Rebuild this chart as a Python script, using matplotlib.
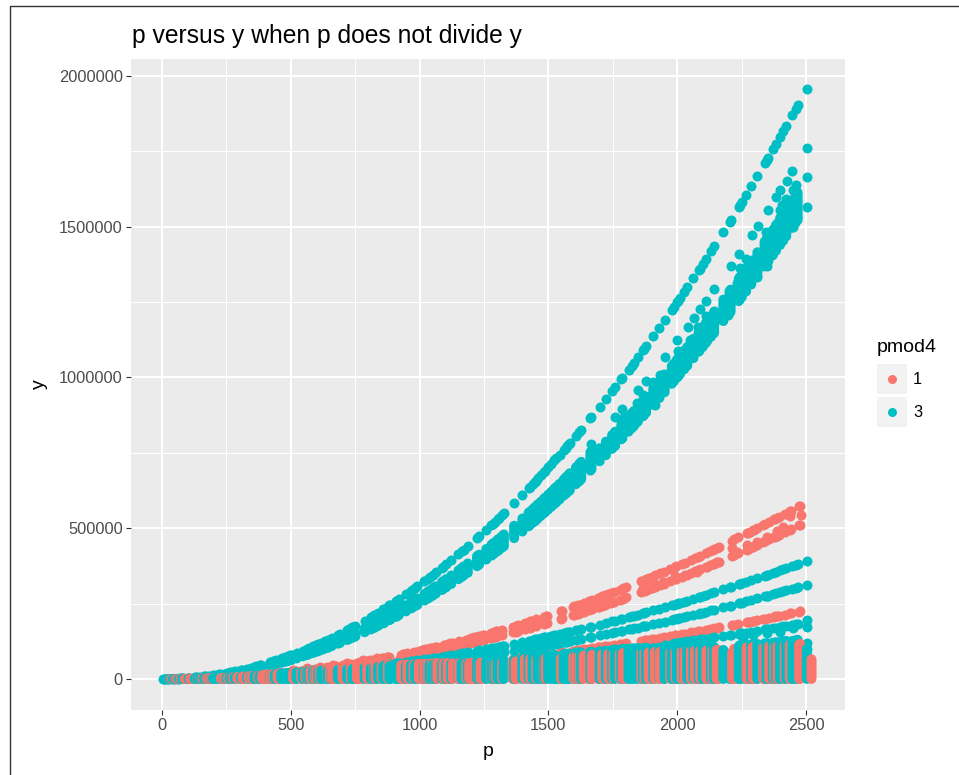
import matplotlib
matplotlib.use('Agg')
import matplotlib.pyplot as plt
from matplotlib.lines import Line2D
from matplotlib.patches import Rectangle

plt.rcParams['font.family'] = ['Liberation Sans', 'DejaVu Sans']

RED = '#F8766D'
TEAL = '#00BFC4'

W, H = 959, 775

# all y values below are in thousands

# teal, the top curve, one point for each prime
curve_p = [3, 7, 11, 19, 23, 31, 43, 47, 59, 67, 71, 79, 83, 103, 107, 127, 131, 139, 151, 163, 167, 179, 191, 199, 211, 223, 227, 239, 251, 263, 271, 283,
           307, 311, 331, 347, 359, 367, 379, 383, 419, 431, 439, 443, 463, 467, 479, 487, 491, 499, 503, 523, 547, 563, 571, 587, 599, 607, 619, 631, 643, 647, 659, 683, 691,
           719, 727, 739, 743, 751, 787, 811, 823, 827, 839, 859, 863, 883, 887, 907, 911, 919, 947, 967, 971, 983, 991, 1019, 1031, 1039, 1051, 1063, 1087, 1091,
           1103, 1123, 1151, 1163, 1171, 1187, 1223, 1231, 1259, 1279, 1283, 1291, 1303, 1307, 1319, 1327, 1367, 1399, 1423, 1427, 1439, 1447, 1451, 1459, 1471, 1483, 1487, 1499,
           1511, 1523, 1531, 1543, 1559, 1567, 1571, 1579, 1583, 1607, 1619, 1627, 1663, 1667, 1699, 1723, 1747, 1759, 1783, 1787, 1811, 1823, 1831, 1847, 1867, 1871, 1879,
           1907, 1931, 1951, 1979, 1987, 1999, 2003, 2011, 2027, 2039, 2063, 2083, 2087, 2099, 2111, 2131, 2143, 2179, 2203, 2207, 2239, 2243, 2251, 2267, 2287,
           2311, 2339, 2347, 2351, 2371, 2383, 2399, 2411, 2423, 2447, 2459, 2467, 2503]
curve_y = [0, 0, 0, 0.1, 0.2, 0.3, 0.6, 0.7, 1.1, 1.4, 1.6, 2, 2.2, 3.3, 3.6, 5, 5.4, 6, 7.1, 8.3, 8.7, 10, 11.4, 12.4, 13.9, 15.5, 16.1, 17.9, 19.7, 21.6, 23, 25,
           29.5, 30.2, 34.2, 37.6, 40.3, 42.1, 44.9, 45.8, 54.9, 58.1, 60.2, 61.3, 67, 68.2, 71.7, 74.1, 75.3, 77.8, 79.1, 85.5, 93.5, 99.1, 101.9, 107.7, 112.1, 115.1, 119.7, 124.4, 129.2, 130.8, 135.7, 145.8, 149.2,
           161.6, 165.2, 170.7, 172.5, 176.3, 193.6, 205.5, 211.7, 213.7, 220, 230.6, 232.7, 243.7, 245.9, 257.1, 259.4, 263.9, 280.3, 292.2, 294.6, 302, 306.9, 324.5, 332.2, 337.4, 345.2, 353.1, 369.2, 372,
           380.2, 394.1, 414, 422.7, 428.5, 440.3, 467.4, 473.6, 495.3, 511.2, 514.4, 520.8, 530.6, 533.8, 543.7, 550.3, 584, 611.6, 632.8, 636.4, 647.1, 654.3, 657.9, 665.2, 676.2, 687.3, 691, 702.2,
           713.5, 724.8, 732.5, 744, 759.5, 767.3, 771.3, 779.2, 783.1, 807, 819.1, 827.2, 864.3, 868.4, 902.1, 927.7, 953.8, 966.9, 993.5, 997.9, 1024.9, 1038.6, 1047.7, 1066.1, 1089.3, 1094, 1103.3,
           1136.5, 1165.2, 1189.5, 1223.9, 1233.8, 1248.8, 1253.8, 1263.8, 1284, 1299.2, 1330, 1355.9, 1361.1, 1376.8, 1392.6, 1419.1, 1435.2, 1483.8, 1516.7, 1522.1, 1566.6, 1572.2, 1583.4, 1606, 1634.5,
           1669, 1709.6, 1721.3, 1727.2, 1756.7, 1774.6, 1798.5, 1816.5, 1834.7, 1871.2, 1889.6, 1901.9, 1957.8]

# teal, the thick band under the curve: each prime has a stack of points from lo to hi
stack_p = [307, 311, 331, 347, 359, 367, 379, 383, 419, 431, 439, 443, 463, 467, 479, 487, 491, 499, 503, 523, 547, 563, 571, 587, 599, 607, 619, 631, 643, 647, 659, 683, 691,
           719, 727, 739, 743, 751, 787, 811, 823, 827, 839, 859, 863, 883, 887, 907, 911, 919, 947, 967, 971, 983, 991, 1019, 1031, 1039, 1051, 1063, 1087, 1091,
           1103, 1123, 1151, 1163, 1171, 1187, 1223, 1231, 1259, 1279, 1283, 1291, 1303, 1307, 1319, 1327, 1367, 1399, 1423, 1427, 1439, 1447, 1451, 1459, 1471, 1483, 1487, 1499,
           1511, 1523, 1531, 1543, 1559, 1567, 1571, 1579, 1583, 1607, 1619, 1627, 1663, 1667, 1699, 1723, 1747, 1759, 1783, 1787, 1811, 1823, 1831, 1847, 1867, 1871, 1879,
           1907, 1931, 1951, 1979, 1987, 1999, 2003, 2011, 2027, 2039, 2063, 2083, 2087, 2099, 2111, 2131, 2143, 2179, 2203, 2207, 2239, 2243, 2251, 2267, 2287,
           2311, 2339, 2347, 2351, 2371, 2383, 2399, 2411, 2423, 2447, 2459, 2467]
stack_lo = [24, 24, 27, 30, 32, 34, 36, 37, 44, 46, 48, 49, 54, 55, 57, 59, 60, 62, 63, 68, 75, 79, 82, 86, 90, 92, 96, 100, 103, 105, 109, 117, 119,
            129, 132, 137, 138, 141, 155, 164, 169, 171, 176, 184, 186, 195, 197, 206, 207, 211, 224, 234, 236, 242, 245, 260, 266, 270, 276, 283, 295, 298,
            304, 315, 331, 338, 343, 352, 374, 379, 396, 409, 412, 417, 424, 427, 435, 440, 467, 489, 506, 509, 518, 523, 526, 532, 541, 550, 553, 562,
            571, 580, 586, 595, 608, 614, 617, 623, 626, 646, 655, 662, 691, 695, 722, 742, 763, 773, 795, 798, 820, 831, 838, 853, 871, 875, 883,
            909, 932, 951, 979, 987, 999, 1003, 1011, 1027, 1039, 1064, 1085, 1089, 1101, 1114, 1135, 1148, 1187, 1213, 1218, 1253, 1258, 1267, 1285, 1308,
            1335, 1368, 1377, 1382, 1405, 1420, 1439, 1453, 1468, 1497, 1512, 1522]
stack_hi = [26, 26, 30, 33, 35, 37, 39, 40, 48, 51, 52, 53, 58, 59, 62, 64, 65, 68, 69, 74, 81, 86, 89, 94, 98, 100, 104, 108, 112, 114, 118, 127, 130,
            141, 144, 148, 150, 153, 168, 179, 184, 186, 191, 201, 202, 212, 214, 224, 226, 230, 244, 254, 256, 263, 267, 282, 289, 293, 300, 307, 321, 324,
            331, 343, 360, 368, 373, 383, 407, 412, 431, 445, 448, 453, 462, 464, 473, 479, 508, 532, 551, 554, 563, 569, 572, 579, 588, 598, 601, 611,
            621, 631, 637, 647, 661, 668, 671, 678, 682, 702, 713, 720, 752, 755, 765, 787, 809, 820, 843, 846, 869, 881, 888, 904, 923, 928, 936,
            964, 988, 1008, 1038, 1046, 1059, 1063, 1072, 1089, 1101, 1128, 1150, 1154, 1167, 1181, 1203, 1217, 1258, 1286, 1291, 1328, 1333, 1343, 1362, 1386,
            1415, 1450, 1460, 1465, 1489, 1505, 1525, 1540, 1556, 1587, 1603, 1613]

# teal, loose points over that band
cloud_p = [2504, 2504, 2504, 2447, 2425, 2461, 2448, 2399, 2383, 2422, 2444, 2463, 2405, 2352, 2399, 2425, 2457, 2399, 2431, 2463, 2312, 2386, 2418, 2450, 2289, 2343, 2353, 2392, 2425, 2450,
           2412, 2240, 2265, 2289, 2207, 2243, 2360, 2379, 2341, 2353, 2334, 2347, 2308, 2289, 2308, 2269, 2243, 2276, 2256, 2231, 2144, 2111, 2088, 2144, 2181, 2205, 2198, 2064, 2110, 2040, 2143, 2140,
           2121, 2101, 2082, 2075, 2049, 2114, 2095, 2000, 2004, 1952, 2011, 1985, 1933, 1950, 1877, 1907, 1946, 1849, 1868, 1842, 1875, 1894, 1914, 1836, 1784, 1759, 1788, 1665, 1665, 1700]
cloud_y = [1762, 1665, 1566, 1685, 1652, 1638, 1622, 1620, 1598, 1591, 1589, 1587, 1572, 1556, 1556, 1561, 1556, 1533, 1539, 1533, 1503, 1511, 1517, 1517, 1471, 1481, 1467, 1489, 1491, 1500,
           1467, 1410, 1392, 1390, 1371, 1362, 1412, 1423, 1401, 1390, 1379, 1368, 1357, 1351, 1334, 1345, 1334, 1312, 1301, 1312, 1292, 1254, 1226, 1221, 1246, 1246, 1207, 1196, 1204, 1168, 1180, 1146,
           1168, 1146, 1168, 1135, 1124, 1124, 1124, 1124, 1086, 1069, 1058, 1036, 1008, 1012, 988, 986, 981, 959, 942, 914, 903, 914, 909, 848, 896, 870, 865, 778, 735, 754]

# teal, the two long lines at about 390000 and 315000 on the right
line_p = [719, 727, 739, 743, 751, 787, 811, 823, 827, 839, 859, 863, 883, 887, 907, 911, 919, 947, 967, 971, 983, 991, 1019, 1031, 1039, 1051, 1063, 1087, 1091,
          1103, 1123, 1151, 1163, 1171, 1187, 1223, 1231, 1259, 1279, 1283, 1291, 1303, 1307, 1319, 1327, 1367, 1399, 1423, 1427, 1439, 1447, 1451, 1459, 1471, 1483, 1487, 1499,
          1511, 1523, 1531, 1543, 1559, 1567, 1571, 1579, 1583, 1607, 1619, 1627, 1663, 1667, 1699, 1723, 1747, 1759, 1783, 1787, 1811, 1823, 1831, 1847, 1867, 1871, 1879,
          1907, 1931, 1951, 1979, 1987, 1999, 2003, 2011, 2027, 2039, 2063, 2083, 2087, 2099, 2111, 2131, 2143, 2179, 2203, 2207, 2239, 2243, 2251, 2267, 2287,
          2311, 2339, 2347, 2351, 2371, 2383, 2399, 2411, 2423, 2447, 2459, 2467, 2503]
line1_y = [32.3, 33, 34.1, 34.5, 35.3, 38.7, 41.1, 42.3, 42.7, 44, 46.1, 46.5, 48.7, 49.2, 51.4, 51.9, 52.8, 56.1, 58.4, 58.9, 60.4, 61.4, 64.9, 66.4, 67.5, 69, 70.6, 73.8, 74.4,
           76, 78.8, 82.8, 84.5, 85.7, 88.1, 93.5, 94.7, 99.1, 102.2, 102.9, 104.2, 106.1, 106.8, 108.7, 110.1, 116.8, 122.3, 126.6, 127.3, 129.4, 130.9, 131.6, 133, 135.2, 137.5, 138.2, 140.4,
           142.7, 145, 146.5, 148.8, 151.9, 153.5, 154.3, 155.8, 156.6, 161.4, 163.8, 165.4, 172.9, 173.7, 180.4, 185.5, 190.8, 193.4, 198.7, 199.6, 205, 207.7, 209.5, 213.2, 217.9, 218.8, 220.7,
           227.3, 233, 237.9, 244.8, 246.8, 249.8, 250.8, 252.8, 256.8, 259.8, 266, 271.2, 272.2, 275.4, 278.5, 283.8, 287, 296.8, 303.3, 304.4, 313.3, 314.4, 316.7, 321.2, 326.9,
           333.8, 341.9, 344.3, 345.4, 351.3, 354.9, 359.7, 363.3, 366.9, 374.2, 377.9, 380.4, 391.6]
line2_y = [25.9, 26.4, 27.3, 27.6, 28.2, 31, 32.9, 33.9, 34.2, 35.2, 36.9, 37.2, 39, 39.3, 41.1, 41.5, 42.2, 44.8, 46.8, 47.1, 48.3, 49.1, 51.9, 53.2, 54, 55.2, 56.5, 59.1, 59.5,
           60.8, 63.1, 66.2, 67.6, 68.6, 70.4, 74.8, 75.8, 79.2, 81.8, 82.3, 83.3, 84.9, 85.4, 87, 88, 93.4, 97.9, 101.2, 101.8, 103.5, 104.7, 105.3, 106.4, 108.2, 110, 110.6, 112.4,
           114.2, 116, 117.2, 119, 121.5, 122.8, 123.4, 124.7, 125.3, 129.1, 131.1, 132.4, 138.3, 138.9, 144.3, 148.4, 152.6, 154.7, 159, 159.7, 164, 166.2, 167.6, 170.6, 174.3, 175, 176.5,
           181.8, 186.4, 190.3, 195.8, 197.4, 199.8, 200.6, 202.2, 205.4, 207.9, 212.8, 216.9, 217.8, 220.3, 222.8, 227.1, 229.6, 237.4, 242.7, 243.5, 250.7, 251.6, 253.3, 257, 261.5,
           267, 273.5, 275.4, 276.4, 281.1, 283.9, 287.8, 290.6, 293.5, 299.4, 302.3, 304.3, 313.2]

# teal, the short band just over the columns on the right
mid_p = [1951, 1979, 1987, 1999, 2003, 2011, 2027, 2039, 2063, 2083, 2087, 2099, 2111, 2131, 2143, 2179, 2203, 2207, 2239, 2243, 2251, 2267, 2287, 2311, 2339, 2347, 2351, 2371, 2383, 2399, 2411, 2423, 2447, 2459, 2467,
         2451, 2399, 2347, 2295, 2256, 1881, 1842, 1804, 1771, 1758, 2505, 2505, 2505, 2505]
mid_y = [114, 117, 118, 120, 120, 121, 123, 125, 128, 130, 131, 132, 134, 136, 138, 142, 146, 146, 150, 151, 152, 154, 157, 160, 164, 165, 166, 169, 170, 173, 174, 176, 180, 181, 183,
         168, 157, 151, 146, 135, 102, 102, 102, 96, 91, 196, 173, 120, 98]

# red, the upper band, two rows for each prime
red_p = [401, 409, 421, 433, 449, 457, 461, 509, 521, 541, 557, 569, 577, 593, 601, 613, 617, 641, 653, 661, 673, 677, 701, 709, 733, 757, 761, 769, 773, 797,
         809, 821, 829, 853, 857, 877, 881, 929, 937, 941, 953, 977, 997, 1009, 1013, 1021, 1033, 1049, 1061, 1069, 1093, 1097, 1109, 1117, 1129, 1153, 1181, 1193,
         1201, 1213, 1217, 1229, 1237, 1249, 1277, 1289, 1297, 1301, 1321, 1361, 1373, 1381, 1409, 1429, 1433, 1453, 1481, 1489, 1493, 1549, 1553, 1597,
         1601, 1609, 1613, 1621, 1637, 1657, 1669, 1693, 1697, 1709, 1721, 1733, 1741, 1753, 1777, 1789, 1801, 1861, 1873, 1877, 1889,
         1901, 1913, 1933, 1949, 1973, 1993, 1997, 2017, 2029, 2053, 2069, 2081, 2089, 2113, 2129, 2137, 2141, 2153, 2161, 2213, 2221, 2237, 2269, 2273, 2281, 2293, 2297,
         2309, 2333, 2341, 2357, 2377, 2381, 2389, 2393, 2417, 2437, 2441, 2473, 2477]
red_hi = [15.1, 15.7, 16.6, 17.6, 18.9, 19.6, 19.9, 24.3, 25.4, 27.4, 29.1, 30.4, 31.2, 33, 33.9, 35.2, 35.7, 38.5, 40, 41, 42.5, 43, 46.1, 47.1, 50.4, 53.7, 54.3, 55.4, 56, 59.6,
          61.4, 63.2, 64.4, 68.2, 68.9, 72.1, 72.8, 80.9, 82.3, 83, 85.1, 89.5, 93.2, 95.4, 96.2, 97.7, 100, 103.2, 105.5, 107.1, 112, 112.8, 115.3, 117, 119.5, 124.6, 130.8, 133.4,
          135.2, 137.9, 138.9, 141.6, 143.5, 146.3, 152.9, 155.8, 157.7, 158.7, 163.6, 173.7, 176.7, 178.8, 186.1, 191.4, 192.5, 197.9, 205.6, 207.9, 209, 225, 226.1, 239.1,
          240.3, 242.7, 243.9, 246.3, 251.2, 257.4, 261.2, 268.7, 270, 273.8, 277.7, 281.6, 284.2, 288.1, 296, 300.1, 304.1, 324.7, 328.9, 330.3, 334.5,
          338.8, 343.1, 350.3, 356.1, 364.9, 372.4, 373.9, 381.4, 386, 395.1, 401.3, 406, 409.1, 418.6, 424.9, 428.1, 429.8, 434.6, 437.8, 459.1, 462.5, 469.1, 482.6, 484.4, 487.8, 492.9, 494.7,
          499.8, 510.3, 513.8, 520.8, 529.7, 531.5, 535.1, 536.9, 547.7, 556.8, 558.6, 573.4, 575.2]
red_lo = [13.4, 13.9, 14.8, 15.6, 16.8, 17.4, 17.7, 21.6, 22.6, 24.4, 25.9, 27, 27.7, 29.3, 30.1, 31.3, 31.7, 34.2, 35.5, 36.4, 37.7, 38.2, 41, 41.9, 44.8, 47.8, 48.3, 49.3, 49.8, 52.9,
          54.5, 56.2, 57.3, 60.6, 61.2, 64.1, 64.7, 71.9, 73.2, 73.8, 75.7, 79.5, 82.8, 84.8, 85.5, 86.9, 88.9, 91.7, 93.8, 95.2, 99.6, 100.3, 102.5, 104, 106.2, 110.8, 116.2, 118.6,
          120.2, 122.6, 123.4, 125.9, 127.5, 130, 135.9, 138.5, 140.2, 141, 145.4, 154.3, 157.1, 158.9, 165.4, 170.2, 171.1, 175.9, 182.8, 184.8, 185.8, 200, 201, 212.5,
          213.6, 215.7, 216.8, 219, 223.3, 228.8, 232.1, 238.8, 240, 243.4, 246.8, 250.3, 252.6, 256.1, 263.1, 266.7, 270.3, 288.6, 292.3, 293.6, 297.4,
          301.2, 305, 311.4, 316.5, 324.4, 331, 332.3, 339, 343.1, 351.2, 356.7, 360.9, 363.7, 372.1, 377.7, 380.6, 382, 386.3, 389.2, 408.1, 411.1, 417, 429, 430.5, 433.6, 438.1, 439.7,
          444.3, 453.6, 456.7, 463, 470.9, 472.4, 475.6, 477.2, 486.8, 494.9, 496.5, 509.6, 511.3]

# red, loose points read from the left end and between the two rows
red_extra_p = [2479, 2438, 2412, 2386, 2347, 2308, 2270, 2231, 2211, 2153, 2114, 2076, 2037, 1991, 1946, 1907, 1868,
               1390, 1299, 1248, 1183, 1118, 1041, 989, 931, 872, 834, 782, 717, 665, 614, 562, 510, 458, 394,
               1000, 960, 920, 880, 840, 800, 760, 720, 680, 640, 600, 560, 520, 480, 440]
red_extra_y = [544, 540, 505, 489, 472, 455, 444, 422, 435, 389, 370, 356, 345, 340, 323, 320, 300,
               174, 151, 146, 124, 118, 102, 91, 80, 74, 69, 63, 52, 46, 41, 35, 30, 24, 19,
               70, 66, 64, 60, 56, 52, 48, 42, 38, 34, 30, 26, 22, 19, 17]

# red, the band at about 220000 on the right
red_band_p = [1301, 1321, 1361, 1373, 1381, 1409, 1429, 1433, 1453, 1481, 1489, 1493, 1549, 1553, 1597, 1601, 1609, 1613, 1621, 1637, 1657, 1669, 1693, 1697, 1709, 1721, 1733, 1741, 1753, 1777, 1789, 1801,
              1861, 1873, 1877, 1889, 1901, 1913, 1933, 1949, 1973, 1993, 1997, 2017, 2029, 2053, 2069, 2081, 2089, 2113, 2129, 2137, 2141, 2153, 2161, 2213, 2221, 2237, 2269, 2273, 2281, 2293, 2297,
              2309, 2333, 2341, 2357, 2377, 2381, 2389, 2393, 2417, 2437, 2441, 2473, 2477]
red_band_y = [61.9, 63.8, 67.7, 68.9, 69.7, 72.6, 74.6, 75.1, 77.2, 80.2, 81.1, 81.5, 87.8, 88.2, 93.2, 93.7, 94.7, 95.1, 96.1, 98, 100.4, 101.9, 104.8, 105.3, 106.8, 108.3, 109.8, 110.8, 112.4, 115.4, 117, 118.6,
              126.6, 128.3, 128.8, 130.5, 132.1, 133.8, 136.6, 138.9, 142.3, 145.2, 145.8, 148.7, 150.5, 154.1, 156.5, 158.3, 159.5, 163.3, 165.7, 167, 167.6, 169.5, 170.7, 179, 180.4, 182.9, 188.2, 188.9, 190.2, 192.2, 192.9,
              194.9, 199, 200.4, 203.1, 206.6, 207.3, 208.7, 209.4, 213.6, 217.2, 217.9, 223.6, 224.3]

# primes and how high each one's column of points at the bottom goes
col_p = [2, 3, 5, 7, 11, 13, 17, 19, 23, 29, 31, 37, 41, 43, 47, 53, 59, 61, 67, 71, 73, 79, 83, 89, 97,
         101, 103, 107, 109, 113, 127, 131, 137, 139, 149, 151, 157, 163, 167, 173, 179, 181, 191, 193, 197, 199,
         211, 223, 227, 229, 233, 239, 241, 251, 257, 263, 269, 271, 277, 281, 283, 293,
         307, 311, 313, 317, 331, 337, 347, 349, 353, 359, 367, 373, 379, 383, 389, 397,
         401, 409, 419, 421, 431, 433, 439, 443, 449, 457, 461, 463, 467, 479, 487, 491, 499,
         503, 509, 521, 523, 541, 547, 557, 563, 569, 571, 577, 587, 593, 599,
         601, 607, 613, 617, 619, 631, 641, 643, 647, 653, 659, 661, 673, 677, 683, 691,
         701, 709, 719, 727, 733, 739, 743, 751, 757, 761, 769, 773, 787, 797,
         809, 811, 821, 823, 827, 829, 839, 853, 857, 859, 863, 877, 881, 883, 887,
         907, 911, 919, 929, 937, 941, 947, 953, 967, 971, 977, 983, 991, 997,
         1009, 1013, 1019, 1021, 1031, 1033, 1039, 1049, 1051, 1061, 1063, 1069, 1087, 1091, 1093, 1097,
         1103, 1109, 1117, 1123, 1129, 1151, 1153, 1163, 1171, 1181, 1187, 1193,
         1201, 1213, 1217, 1223, 1229, 1231, 1237, 1249, 1259, 1277, 1279, 1283, 1289, 1291, 1297,
         1301, 1303, 1307, 1319, 1321, 1327, 1361, 1367, 1373, 1381, 1399,
         1409, 1423, 1427, 1429, 1433, 1439, 1447, 1451, 1453, 1459, 1471, 1481, 1483, 1487, 1489, 1493, 1499,
         1511, 1523, 1531, 1543, 1549, 1553, 1559, 1567, 1571, 1579, 1583, 1597,
         1601, 1607, 1609, 1613, 1619, 1621, 1627, 1637, 1657, 1663, 1667, 1669, 1693, 1697, 1699,
         1709, 1721, 1723, 1733, 1741, 1747, 1753, 1759, 1777, 1783, 1787, 1789,
         1801, 1811, 1823, 1831, 1847, 1861, 1867, 1871, 1873, 1877, 1879, 1889,
         1901, 1907, 1913, 1931, 1933, 1949, 1951, 1973, 1979, 1987, 1993, 1997, 1999,
         2003, 2011, 2017, 2027, 2029, 2039, 2053, 2063, 2069, 2081, 2083, 2087, 2089, 2099,
         2111, 2113, 2129, 2131, 2137, 2141, 2143, 2153, 2161, 2179, 2203, 2207, 2213, 2221, 2237, 2239, 2243, 2251, 2267, 2269, 2273, 2281, 2287, 2293, 2297,
         2309, 2311, 2333, 2339, 2341, 2347, 2351, 2357, 2371, 2377, 2381, 2383, 2389, 2393, 2399,
         2411, 2417, 2423, 2437, 2441, 2447, 2459, 2467, 2473, 2477, 2503, 2521]
col_top = [0, 0, 0, 0, 0, 0, 0, 0, 0.1, 0.1, 0.1, 0.1, 0.2, 0.2, 0.2, 0.3, 0.3, 0.3, 0.4, 0.4, 0.4, 0.5, 0.5, 0.6, 0.7,
           0.8, 0.8, 0.9, 0.9, 1, 1, 1.2, 1.2, 1.3, 1.5, 1.5, 1.7, 1.8, 2, 2, 2.2, 2.2, 2.5, 2.5, 2.6, 2.6,
           3, 3, 3.5, 3.5, 3.5, 4, 4, 4.5, 4.5, 5, 5, 5.5, 5.5, 6, 6, 6.5,
           7, 7, 7.5, 8, 8, 9, 9.5, 9.5, 10, 10, 11, 11, 11, 12, 12, 13,
           13, 14, 14, 15, 15, 16, 16, 16, 17, 17, 18, 18, 18, 19, 19, 20, 20,
           20, 21, 22, 22, 24, 24, 25, 25, 27, 27, 27, 28, 29, 30,
           30, 26, 30, 32, 28, 28, 36, 26, 28, 34, 28, 36, 38, 38, 30, 30,
           40, 40, 32, 34, 44, 32, 34, 34, 46, 48, 48, 48, 38, 50,
           42, 36, 44, 38, 38, 44, 40, 46, 46, 42, 42, 46, 46, 42, 42,
           44, 44, 44, 46, 46, 46, 44, 48, 46, 46, 48, 46, 46, 50,
           50, 50, 48, 50, 48, 50, 48, 52, 48, 52, 50, 52, 50, 50, 52, 52,
           50, 52, 50, 50, 52, 52, 52, 52, 50, 52, 52, 52,
           54, 52, 54, 58, 54, 58, 54, 54, 60, 54, 60, 60, 54, 60, 54,
           56, 62, 62, 62, 56, 62, 60, 64, 58, 58, 68,
           66, 72, 72, 66, 66, 72, 66, 72, 66, 74, 74, 66, 76, 76, 68, 66, 76,
           78, 80, 70, 72, 70, 72, 82, 84, 72, 84, 84, 76,
           76, 88, 76, 78, 88, 78, 88, 78, 80, 90, 90, 80, 80, 80, 92,
           82, 84, 94, 84, 84, 96, 84, 98, 86, 98, 100, 86,
           86, 100, 100, 102, 102, 88, 102, 102, 88, 88, 104, 88,
           90, 102, 90, 104, 90, 90, 104, 90, 106, 106, 90, 90, 104,
           104, 106, 92, 106, 92, 104, 94, 106, 94, 94, 104, 104, 94, 104,
           104, 94, 96, 104, 96, 96, 106, 96, 96, 96, 84, 80, 88, 100, 100, 108, 112, 112, 114, 104, 104, 104, 114, 106, 106,
           106, 116, 106, 118, 108, 118, 118, 108, 120, 108, 108, 122, 110, 110, 122,
           124, 112, 126, 114, 114, 126, 128, 130, 114, 116, 100, 65]

DOT = 7.2
SIZE = DOT ** 2


def k(vals):
    return [v * 1000 for v in vals]


fig = plt.figure(figsize=(W / 100, H / 100), dpi=100, facecolor='white')
ax = fig.add_axes([131 / W, 1 - 710 / H, (845 - 131) / W, (710 - 59) / H], facecolor='#EBEBEB')

ax.scatter(red_p, k(red_hi), s=SIZE, color=RED, linewidths=0, zorder=3)
ax.scatter(red_p, k(red_lo), s=SIZE, color=RED, linewidths=0, zorder=3)
ax.scatter(red_extra_p, k(red_extra_y), s=SIZE, color=RED, linewidths=0, zorder=3)
ax.scatter(red_band_p, k(red_band_y), s=SIZE, color=RED, linewidths=0, zorder=3)

stacks = ax.vlines(stack_p, k(stack_lo), k(stack_hi), colors=TEAL, linewidth=DOT, capstyle='round', zorder=4)
stacks.set_snap(False)
ax.scatter(curve_p, k(curve_y), s=SIZE, color=TEAL, linewidths=0, zorder=4)
ax.scatter(cloud_p, k(cloud_y), s=SIZE, color=TEAL, linewidths=0, zorder=4)
ax.scatter(line_p, k(line1_y), s=SIZE, color=TEAL, linewidths=0, zorder=4)
ax.scatter(line_p, k(line2_y), s=SIZE, color=TEAL, linewidths=0, zorder=4)
ax.scatter(mid_p, k(mid_y), s=SIZE, color=TEAL, linewidths=0, zorder=4)

# columns go in order of p so the later ones sit on top, same as the points do
col_colors = [RED if p % 4 == 1 else TEAL for p in col_p]
cols = ax.vlines(col_p, [0 for t in col_top], k(col_top), colors=col_colors, linewidth=DOT, capstyle='round', zorder=5)
cols.set_snap(False)

ax.set_xlim(-120, 2651)
ax.set_ylim(-103000, 2056000)
ax.set_xticks([0, 500, 1000, 1500, 2000, 2500])
ax.set_xticks([250, 750, 1250, 1750, 2250], minor=True)
ax.set_yticks([0, 500000, 1000000, 1500000, 2000000])
ax.set_yticks([250000, 750000, 1250000, 1750000], minor=True)
ax.set_yticklabels(['0', '500000', '1000000', '1500000', '2000000'])
ax.grid(which='major', color='white', linewidth=1.5, zorder=1)
ax.grid(which='minor', color='white', linewidth=0.75, zorder=1)
ax.set_axisbelow(True)
ax.tick_params(which='major', length=3.5, width=0.8, color='#333333', labelcolor='#4D4D4D', labelsize=11.8, pad=2.5)
ax.tick_params(which='minor', length=0)
for s in ax.spines.values():
    s.set_visible(False)

ax.set_xlabel('p', fontsize=14, labelpad=7)
ax.set_ylabel('y', fontsize=14, labelpad=8)
fig.text(132 / W, 1 - 36 / H, 'p versus y when p does not divide y', fontsize=17.7, va='center', ha='left')

# legend, ggplot style
fig.text(877 / W, 1 - 348 / H, 'pmod4', fontsize=14, va='center', ha='left')
for top, col, lab in [(364, RED, '1'), (397, TEAL, '3')]:
    fig.add_artist(Rectangle((877 / W, 1 - (top + 30) / H), 30 / W, 30 / H, transform=fig.transFigure, facecolor='#F2F2F2', edgecolor='none'))
    fig.add_artist(Line2D([892 / W], [1 - (top + 15) / H], marker='o', markersize=6.48, markeredgewidth=0, color=col, linestyle='none', transform=fig.transFigure))
    fig.text(913 / W, 1 - (top + 15.5) / H, lab, fontsize=11.8, va='center', ha='left')

# the outer frame in the screenshot
fig.add_artist(Line2D([9.5 / W, 9.5 / W, 1], [0, 1 - 5.5 / H, 1 - 5.5 / H], color='#333333', linewidth=1, transform=fig.transFigure))

fig.savefig('out.png', dpi=100)
